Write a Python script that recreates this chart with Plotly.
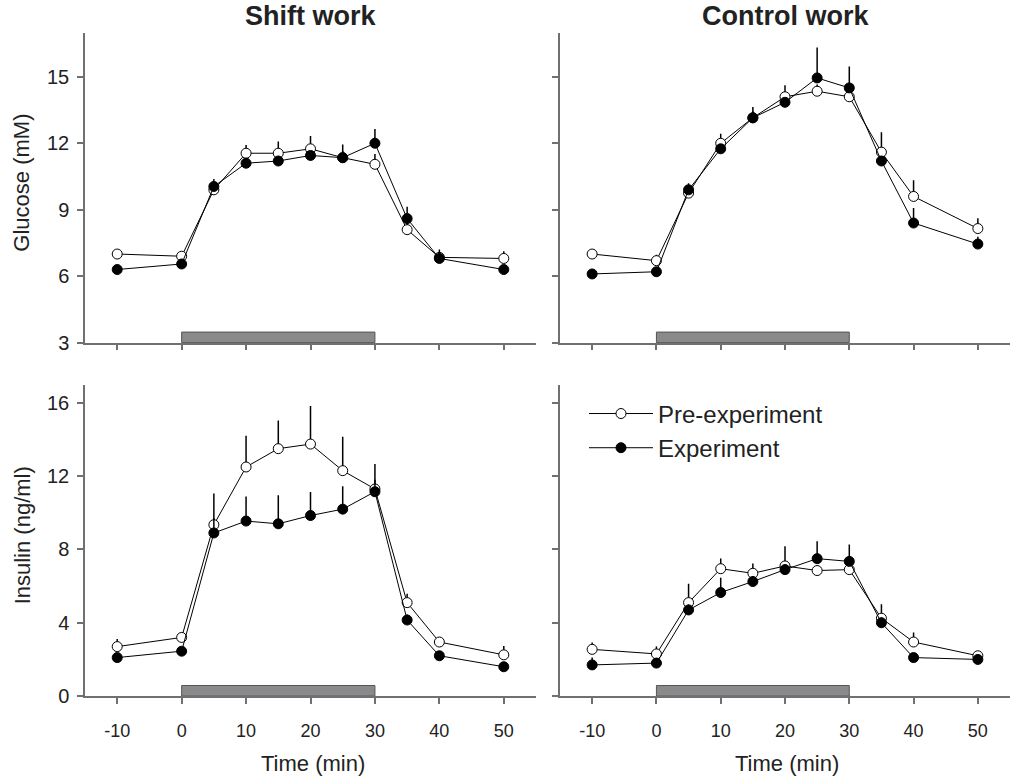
import plotly.graph_objects as go

# Sampling times (min) relative to meal onset
time_min = [-10, 0, 5, 10, 15, 20, 25, 30, 35, 40, 50]

# Glucose (mM), shift work
glu_shift_pre = [7.0, 6.9, 9.9, 11.55, 11.55, 11.75, 11.35, 11.05, 8.1, 6.85, 6.8]
glu_shift_pre_se = [0.1, 0.15, 0.2, 0.37, 0.53, 0.58, 0.3, 0.47, 0.3, 0.2, 0.33]
glu_shift_exp = [6.3, 6.55, 10.05, 11.1, 11.2, 11.45, 11.35, 12.0, 8.6, 6.8, 6.3]
glu_shift_exp_se = [0.15, 0.2, 0.34, 0.2, 0.2, 0.2, 0.6, 0.64, 0.53, 0.4, 0.15]

# Glucose (mM), control work
glu_ctrl_pre = [7.0, 6.7, 9.75, 12.0, 13.15, 14.1, 14.35, 14.1, 11.6, 9.6, 8.15]
glu_ctrl_pre_se = [0.15, 0.27, 0.2, 0.43, 0.3, 0.52, 0.3, 0.3, 0.9, 0.73, 0.46]
glu_ctrl_exp = [6.1, 6.2, 9.9, 11.75, 13.15, 13.85, 14.95, 14.5, 11.2, 8.4, 7.45]
glu_ctrl_exp_se = [0.15, 0.15, 0.3, 0.2, 0.49, 0.2, 1.38, 0.97, 0.2, 0.68, 0.33]

# Insulin (ng/ml), shift work
ins_shift_pre = [2.7, 3.2, 9.35, 12.5, 13.5, 13.75, 12.3, 11.3, 5.1, 2.95, 2.25]
ins_shift_pre_se = [0.41, 0.2, 1.7, 1.7, 1.54, 2.08, 1.85, 0.5, 0.48, 0.25, 0.48]
ins_shift_exp = [2.1, 2.45, 8.9, 9.55, 9.4, 9.85, 10.2, 11.15, 4.15, 2.2, 1.6]
ins_shift_exp_se = [0.2, 0.2, 0.8, 1.34, 1.56, 1.29, 1.25, 1.52, 0.3, 0.2, 0.15]

# Insulin (ng/ml), control work
ins_ctrl_pre = [2.55, 2.3, 5.1, 6.95, 6.7, 7.1, 6.85, 6.9, 4.25, 2.95, 2.2]
ins_ctrl_pre_se = [0.38, 0.41, 1.03, 0.56, 0.54, 1.08, 0.3, 0.3, 0.76, 0.52, 0.15]
ins_ctrl_exp = [1.7, 1.8, 4.7, 5.65, 6.25, 6.9, 7.5, 7.35, 4.0, 2.1, 2.0]
ins_ctrl_exp_se = [0.4, 0.2, 0.3, 0.81, 0.3, 0.3, 0.95, 0.92, 0.3, 0.2, 0.15]

# Meal / task period shown as a bar along the x axis
task_period = [0, 30]

col_titles = ["Shift work", "Control work"]
row_titles = ["Glucose (mM)", "Insulin (ng/ml)"]
glucose_ticks = [3, 6, 9, 12, 15]
insulin_ticks = [0, 4, 8, 12, 16]
time_ticks = [-10, 0, 10, 20, 30, 40, 50]
time_tick_text = ["-10", "0", "10", "20", "30", "40", "50"]

W, H = 1014, 783
FONT = "Liberation Sans, Arial, sans-serif"
AXIS_GRAY = "#707070"
TEXT = "#222222"

# Panel geometry in pixels (left, right, top, bottom)
cols_px = [(85, 536), (560, 1010)]
rows_px = [(33, 347.5), (390, 706)]

fig = go.Figure()

panels = [
    # (row, col, pre, pre_se, exp, exp_se)
    (0, 0, glu_shift_pre, glu_shift_pre_se, glu_shift_exp, glu_shift_exp_se),
    (0, 1, glu_ctrl_pre, glu_ctrl_pre_se, glu_ctrl_exp, glu_ctrl_exp_se),
    (1, 0, ins_shift_pre, ins_shift_pre_se, ins_shift_exp, ins_shift_exp_se),
    (1, 1, ins_ctrl_pre, ins_ctrl_pre_se, ins_ctrl_exp, ins_ctrl_exp_se),
]

layout = {}
for r, c, pre, pre_se, exp, exp_se in panels:
    idx = r * 2 + c + 1
    xa = "x" if idx == 1 else f"x{idx}"
    ya = "y" if idx == 1 else f"y{idx}"
    xl, xr = cols_px[c]
    yt, yb = rows_px[r]
    show_legend = (r == 1 and c == 1)

    for name, vals, se, fill in [
        ("Pre-experiment", pre, pre_se, "white"),
        ("Experiment", exp, exp_se, "black"),
    ]:
        fig.add_trace(go.Scatter(
            x=time_min, y=vals, name=name, mode="lines+markers",
            xaxis=xa, yaxis=ya, showlegend=show_legend,
            line=dict(color="black", width=1),
            marker=dict(size=10, color=fill, line=dict(color="black", width=1)),
            error_y=dict(type="data", symmetric=False, array=se,
                         arrayminus=[0] * len(se), width=0,
                         thickness=1.5, color="black"),
        ))

    # task period bar sitting on the x axis
    fig.add_shape(type="rect", xref=xa, yref=f"{ya} domain",
                  x0=task_period[0], x1=task_period[1], y0=0, y1=0.034,
                  fillcolor="#8a8a8c", line=dict(color="#555555", width=1),
                  layer="below")

    key_x = "xaxis" if idx == 1 else f"xaxis{idx}"
    key_y = "yaxis" if idx == 1 else f"yaxis{idx}"
    layout[key_x] = dict(
        domain=[xl / W, xr / W], range=[-15, 55], anchor=ya,
        tickvals=time_ticks, ticktext=time_tick_text,
        ticks="outside", ticklen=6, tickwidth=1.5,
        tickcolor=AXIS_GRAY, showline=True, linecolor=AXIS_GRAY, linewidth=1.5,
        showgrid=False, zeroline=False, showticklabels=(r == 1),
        ticklabelstandoff=12,
        tickfont=dict(family=FONT, size=18, color=TEXT),
    )
    layout[key_y] = dict(
        domain=[1 - yb / H, 1 - yt / H],
        range=[3, 17] if r == 0 else [0, 17], anchor=xa,
        tickvals=glucose_ticks if r == 0 else insulin_ticks,
        ticks="outside", ticklen=6, tickwidth=1.5, tickcolor=AXIS_GRAY,
        showline=True, linecolor=AXIS_GRAY, linewidth=1.5,
        showgrid=False, zeroline=False, showticklabels=(c == 0),
        ticklabelstandoff=4,
        tickfont=dict(family=FONT, size=20, color=TEXT),
    )

annotations = []
for c, title in enumerate(col_titles):
    xl, xr = cols_px[c]
    annotations.append(dict(
        text=f"<b>{title}</b>", x=(xl + xr) / 2 / W, y=1 - 16 / H,
        xref="paper", yref="paper", showarrow=False,
        xanchor="center", yanchor="middle",
        font=dict(family=FONT, size=27, color=TEXT)))
    annotations.append(dict(
        text="Time (min)", x=(xl + xr) / 2 / W + 2 / W, y=1 - 774 / H,
        xref="paper", yref="paper", showarrow=False,
        xanchor="center", yanchor="middle",
        font=dict(family=FONT, size=22, color=TEXT)))
for r, title in enumerate(row_titles):
    yt, yb = rows_px[r]
    annotations.append(dict(
        text=title, x=22 / W, y=1 - ((yt + yb) / 2 - 5) / H,
        xref="paper", yref="paper", showarrow=False, textangle=-90,
        xanchor="center", yanchor="middle",
        font=dict(family=FONT, size=22, color=TEXT)))

fig.update_layout(
    width=W, height=H, margin=dict(l=0, r=0, t=0, b=0),
    paper_bgcolor="white", plot_bgcolor="white",
    annotations=annotations,
    legend=dict(x=584 / W, y=1 - 397 / H, xanchor="left", yanchor="top",
                bgcolor="rgba(0,0,0,0)", font=dict(family=FONT, size=24, color=TEXT),
                tracegroupgap=0, itemwidth=64),
    **layout,
)

fig.write_html("out.html")
